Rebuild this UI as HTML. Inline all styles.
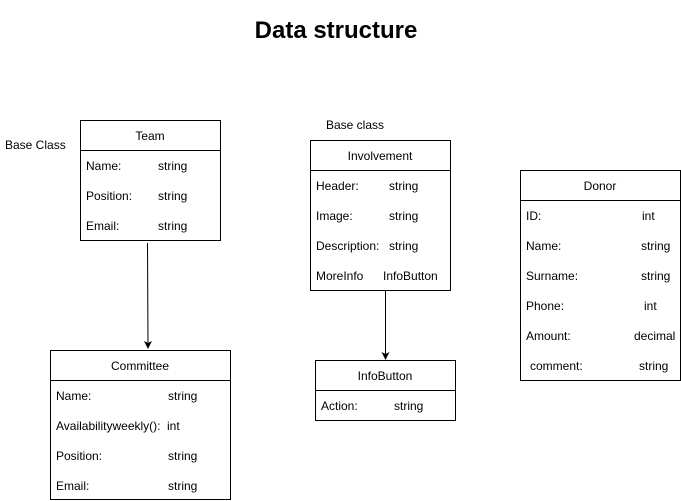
<!DOCTYPE html>
<html><head><meta charset="utf-8"><style>
html,body{margin:0;padding:0;background:#fff;}
svg{display:block;font-family:"Liberation Sans",Arial,sans-serif;}
</style></head><body>
<svg width="681" height="501" viewBox="0 0 681 501" xmlns="http://www.w3.org/2000/svg">
<defs><marker id="ar" markerWidth="8" markerHeight="8" refX="7" refY="4" orient="auto" markerUnits="userSpaceOnUse"><path d="M0,0 L8,4 L0,8 L2,4 z" fill="#000"/></marker></defs>
<text x="336" y="38" font-size="24" font-weight="bold" text-anchor="middle">Data structure</text>
<g font-size="12" fill="#000">
<text x="5" y="149">Base Class</text>
<text x="326" y="129">Base class</text>
</g>
<g fill="#fff" stroke="#000" stroke-width="1">
<rect x="80.5" y="120.5" width="140" height="120"/><line x1="80" y1="150.5" x2="221" y2="150.5"/>
<rect x="50.5" y="350.5" width="180" height="149"/><line x1="50" y1="380.5" x2="231" y2="380.5"/>
<rect x="310.5" y="140.5" width="140" height="150"/><line x1="310" y1="170.5" x2="451" y2="170.5"/>
<rect x="315.5" y="360.5" width="140" height="60"/><line x1="315" y1="390.5" x2="456" y2="390.5"/>
<rect x="520.5" y="170.5" width="160" height="210"/><line x1="520" y1="200.5" x2="681" y2="200.5"/>
</g>
<g stroke="#000" stroke-width="1">
<line x1="147.5" y1="243" x2="148" y2="348" marker-end="url(#ar)"/>
<line x1="385.5" y1="291" x2="385.5" y2="359" marker-end="url(#ar)"/>
</g>
<g font-size="12" fill="#000" text-anchor="middle">
<text x="150" y="140">Team</text>
<text x="140" y="370">Committee</text>
<text x="380" y="160">Involvement</text>
<text x="385" y="380">InfoButton</text>
<text x="600" y="190">Donor</text>
</g>
<g font-size="12" fill="#000">
<text x="86" y="170">Name:</text><text x="158" y="170">string</text>
<text x="86" y="200">Position:</text><text x="158" y="200">string</text>
<text x="86" y="230">Email:</text><text x="158" y="230">string</text>
<text x="56" y="400">Name:</text><text x="168" y="400">string</text>
<text x="56" y="430">Availabilityweekly():</text><text x="167" y="430">int</text>
<text x="56" y="460">Position:</text><text x="168" y="460">string</text>
<text x="56" y="490">Email:</text><text x="168" y="490">string</text>
<text x="316" y="190">Header:</text><text x="389" y="190">string</text>
<text x="316" y="220">Image:</text><text x="389" y="220">string</text>
<text x="316" y="250">Description:</text><text x="389" y="250">string</text>
<text x="316" y="280">MoreInfo</text><text x="383" y="280">InfoButton</text>
<text x="321" y="410">Action:</text><text x="394" y="410">string</text>
<text x="526" y="220">ID:</text><text x="642" y="220">int</text>
<text x="526" y="250">Name:</text><text x="641" y="250">string</text>
<text x="526" y="280">Surname:</text><text x="641" y="280">string</text>
<text x="526" y="310">Phone:</text><text x="644" y="310">int</text>
<text x="526" y="340">Amount:</text><text x="634" y="340">decimal</text>
<text x="530" y="370">comment:</text><text x="639" y="370">string</text>
</g>
</svg>
</body></html>
